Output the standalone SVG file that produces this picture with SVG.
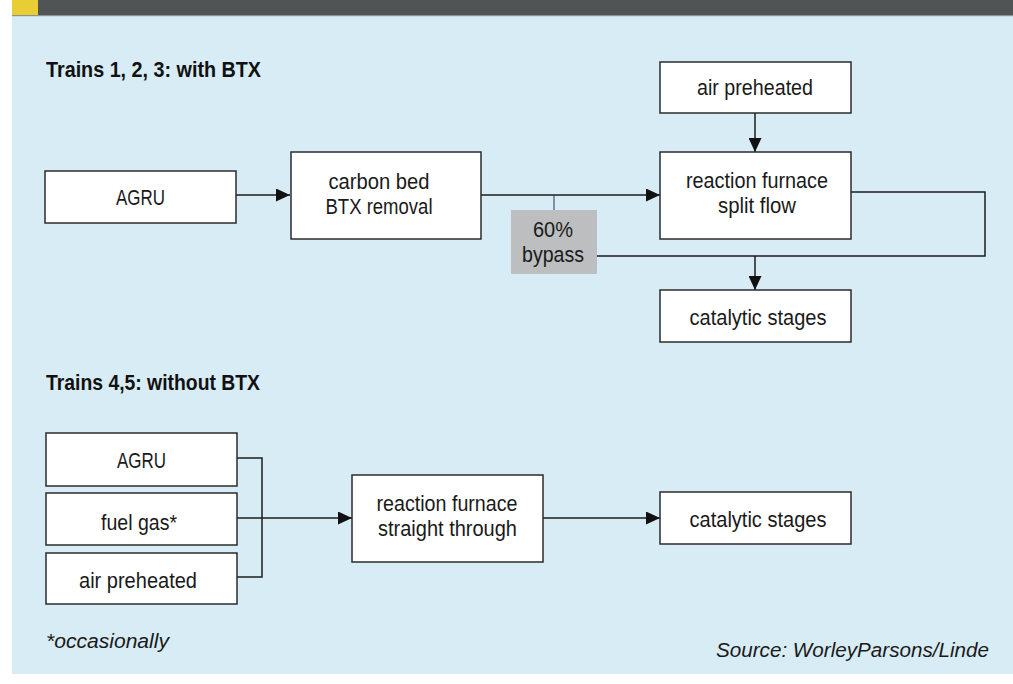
<svg xmlns="http://www.w3.org/2000/svg" width="1013" height="684" viewBox="0 0 1013 684">
  <style>
    .box { fill: #ffffff; stroke: #2b2b2b; stroke-width: 1.5; }
    .gray { fill: #bcbebf; stroke: none; }
    .lbl { font-family: "Liberation Sans Narrow", "Liberation Sans", "DejaVu Sans Condensed", sans-serif; font-size: 22px; fill: #1a1a1a; text-anchor: middle; }
    .ttl { font-family: "Liberation Sans Narrow", "Liberation Sans", "DejaVu Sans Condensed", sans-serif; font-size: 22px; font-weight: bold; fill: #111111; }
    .note { font-family: "Liberation Sans Narrow", "Liberation Sans", sans-serif; font-size: 20px; font-style: italic; fill: #1a1a1a; }
    .conn { fill: none; stroke: #1c1c1c; stroke-width: 1.5; }
    .tick { fill: none; stroke: #1f3a55; stroke-width: 1; }
  </style>
  <defs>
    <marker id="arr" markerUnits="userSpaceOnUse" markerWidth="14" markerHeight="13" refX="14" refY="6.5" orient="auto">
      <path d="M0,0 L14,6.5 L0,13 z" fill="#111111"/>
    </marker>
  </defs>

  <!-- background -->
  <rect x="0" y="0" width="1013" height="684" fill="#ffffff"/>
  <rect x="12" y="0" width="1001" height="15" fill="#505455"/>
  <rect x="12" y="15" width="1001" height="1.5" fill="#8d9294"/>
  <rect x="12" y="0" width="26" height="15" fill="#e8cd35"/>
  <rect x="12" y="16.5" width="1001" height="657.5" fill="#d8ecf5"/>

  <text class="ttl" x="46" y="77" textLength="215" lengthAdjust="spacingAndGlyphs">Trains 1, 2, 3: with BTX</text>
  <text class="ttl" x="46" y="390" textLength="214" lengthAdjust="spacingAndGlyphs">Trains 4,5: without BTX</text>

  <!-- connectors -->
  <g id="connectors">
    <path class="conn" d="M236,195 H290" marker-end="url(#arr)"/>
    <path class="conn" d="M481,195 H660" marker-end="url(#arr)"/>
    <path class="tick" d="M554,195 V210"/>
    <path class="conn" d="M755,113 V152" marker-end="url(#arr)"/>
    <path class="conn" d="M851,192 H985 V256 H597"/>
    <path class="conn" d="M755,256 V290" marker-end="url(#arr)"/>
    <path class="conn" d="M237,458 H262 V577 H237"/>
    <path class="conn" d="M237,518 H352" marker-end="url(#arr)"/>
    <path class="conn" d="M543,518 H660" marker-end="url(#arr)"/>
  </g>

  <!-- top row -->
  <g id="agru1">
    <rect class="box" x="45" y="171" width="191" height="52"/>
    <text class="lbl" x="140.5" y="205" textLength="49" lengthAdjust="spacingAndGlyphs">AGRU</text>
  </g>
  <g id="carbon-bed">
    <rect class="box" x="291" y="152" width="190" height="87"/>
    <text class="lbl" x="379" y="189" textLength="101" lengthAdjust="spacingAndGlyphs">carbon bed</text>
    <text class="lbl" x="379" y="214" textLength="107" lengthAdjust="spacingAndGlyphs">BTX removal</text>
  </g>
  <g id="bypass">
    <rect class="gray" x="511" y="210" width="86" height="64"/>
    <text class="lbl" x="553" y="237" textLength="40" lengthAdjust="spacingAndGlyphs">60%</text>
    <text class="lbl" x="553" y="262" textLength="62" lengthAdjust="spacingAndGlyphs">bypass</text>
  </g>
  <g id="air1">
    <rect class="box" x="660" y="62" width="191" height="51"/>
    <text class="lbl" x="755" y="95" textLength="116" lengthAdjust="spacingAndGlyphs">air preheated</text>
  </g>
  <g id="furnace1">
    <rect class="box" x="660" y="152" width="191" height="87"/>
    <text class="lbl" x="757" y="188" textLength="142" lengthAdjust="spacingAndGlyphs">reaction furnace</text>
    <text class="lbl" x="757" y="213" textLength="78" lengthAdjust="spacingAndGlyphs">split flow</text>
  </g>
  <g id="catalytic1">
    <rect class="box" x="660" y="290" width="191" height="52"/>
    <text class="lbl" x="758" y="325" textLength="137" lengthAdjust="spacingAndGlyphs">catalytic stages</text>
  </g>

  <!-- bottom row -->
  <g id="agru2">
    <rect class="box" x="46" y="433" width="191" height="53"/>
    <text class="lbl" x="141.5" y="468" textLength="49" lengthAdjust="spacingAndGlyphs">AGRU</text>
  </g>
  <g id="fuelgas">
    <rect class="box" x="46" y="493" width="191" height="52"/>
    <text class="lbl" x="139" y="530" textLength="76" lengthAdjust="spacingAndGlyphs">fuel gas*</text>
  </g>
  <g id="air2">
    <rect class="box" x="46" y="553" width="191" height="51"/>
    <text class="lbl" x="138" y="588" textLength="118" lengthAdjust="spacingAndGlyphs">air preheated</text>
  </g>
  <g id="furnace2">
    <rect class="box" x="352" y="475" width="191" height="87"/>
    <text class="lbl" x="447" y="511" textLength="141" lengthAdjust="spacingAndGlyphs">reaction furnace</text>
    <text class="lbl" x="447.5" y="536" textLength="139" lengthAdjust="spacingAndGlyphs">straight through</text>
  </g>
  <g id="catalytic2">
    <rect class="box" x="660" y="492" width="191" height="52"/>
    <text class="lbl" x="758" y="527" textLength="137" lengthAdjust="spacingAndGlyphs">catalytic stages</text>
  </g>

  <text class="note" x="46" y="648" textLength="123" lengthAdjust="spacingAndGlyphs">*occasionally</text>
  <text class="note" x="989" y="657" text-anchor="end" textLength="273" lengthAdjust="spacingAndGlyphs">Source: WorleyParsons/Linde</text>
</svg>
